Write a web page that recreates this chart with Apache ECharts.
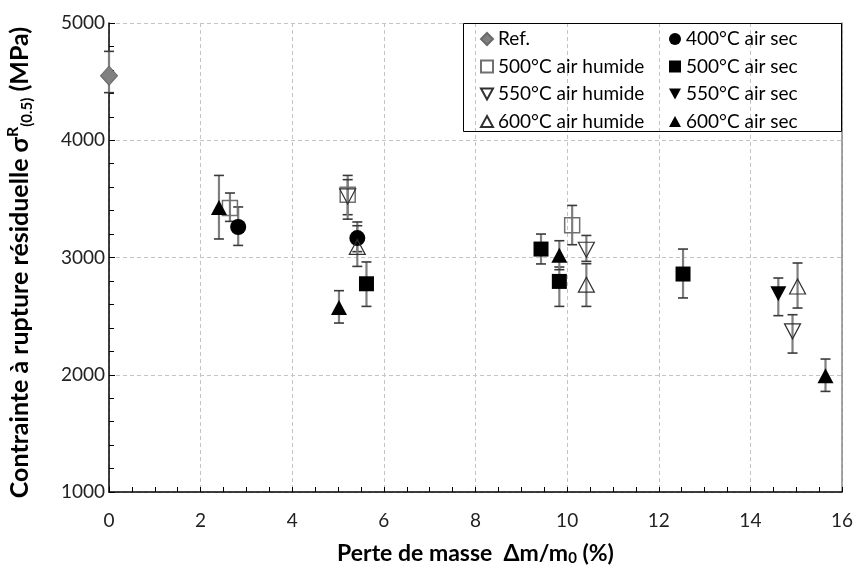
<!DOCTYPE html>
<html>
<head>
<meta charset="utf-8">
<script src="https://cdn.jsdelivr.net/npm/echarts@6/dist/echarts.min.js"></script>
<style>html,body{margin:0;padding:0;background:#fff}#c{width:853px;height:573px}</style>
</head>
<body>
<div id="c"></div>
<script>
// Each point: [mass loss %, stress MPa, error bar low, error bar high]
const refData    = [[0, 4551, 4406, 4758]];
const s400sec    = [[2.82, 3260, 3103, 3431], [5.42, 3166, 3050, 3303]];
const s500humide = [[2.64, 3422, 3308, 3550], [5.21, 3536, 3365, 3700], [10.11, 3274, 3109, 3444]];
const s500sec    = [[5.62, 2776, 2583, 2962], [9.43, 3072, 2945, 3200], [9.83, 2796, 2583, 2919], [12.53, 2859, 2655, 3072]];
const s550humide = [[5.21, 3521, 3327, 3664], [10.42, 3066, 2967, 3188], [14.92, 2370, 2185, 2512]];
const s550sec    = [[14.61, 2691, 2504, 2825]];
const s600humide = [[5.42, 3090, 2924, 3271], [10.42, 2768, 2583, 2947], [15.03, 2753, 2569, 2953]];
const s600sec    = [[2.40, 3427, 3158, 3700], [5.02, 2574, 2441, 2717], [9.83, 3020, 2896, 3143], [15.64, 1992, 1858, 2134]];

const xTicks = [0, 2, 4, 6, 8, 10, 12, 14, 16];
const yTicks = [1000, 2000, 3000, 4000, 5000];

const names = ['Ref.', '400°C air sec', '500°C air humide', '500°C air sec',
               '550°C air humide', '550°C air sec', '600°C air humide', '600°C air sec'];
const datasets = [refData, s400sec, s500humide, s500sec, s550humide, s550sec, s600humide, s600sec];

const FONT = 'Lato, "Open Sans", sans-serif';
const DOWN = 'path://M0,0L10,0L5,9Z';
const UP = 'path://M5,0L10,9L0,9Z';
const styles = [
  {symbol: 'diamond', size: [17, 19], itemStyle: {color: '#808080', borderColor: '#6a6a6a', borderWidth: 1, opacity: 1}},
  {symbol: 'circle', size: 16, itemStyle: {color: '#000', opacity: 1}},
  {symbol: 'rect', size: 15, itemStyle: {color: 'rgba(255,255,255,0)', borderColor: '#707070', borderWidth: 1.5, opacity: 1}},
  {symbol: 'rect', size: 15, itemStyle: {color: '#000', opacity: 1}},
  {symbol: DOWN, size: [16, 15], itemStyle: {color: 'rgba(255,255,255,0)', borderColor: '#303030', borderWidth: 1.2, opacity: 1}},
  {symbol: DOWN, size: [16, 15], itemStyle: {color: '#000', opacity: 1}},
  {symbol: UP, size: [16, 15], itemStyle: {color: 'rgba(255,255,255,0)', borderColor: '#303030', borderWidth: 1.2, opacity: 1}},
  {symbol: UP, size: [16, 15], itemStyle: {color: '#000', opacity: 1}}
];

const errData = [];
datasets.forEach(d => d.forEach(p => errData.push(p)));

const series = [{
  type: 'custom',
  name: 'err',
  z: 1,
  silent: true,
  data: errData,
  encode: {x: 0, y: [2, 3]},
  renderItem: function (params, api) {
    const x = api.value(0);
    const pLo = api.coord([x, api.value(2)]);
    const pHi = api.coord([x, api.value(3)]);
    const w = 5;
    const cap = {stroke: '#3a3a3a', lineWidth: 1.6};
    return {type: 'group', children: [
      {type: 'line', shape: {x1: pLo[0], y1: pLo[1], x2: pHi[0], y2: pHi[1]}, style: {stroke: '#7f7f7f', lineWidth: 2.2}},
      {type: 'line', shape: {x1: pLo[0] - w, y1: pLo[1], x2: pLo[0] + w, y2: pLo[1]}, style: cap},
      {type: 'line', shape: {x1: pHi[0] - w, y1: pHi[1], x2: pHi[0] + w, y2: pHi[1]}, style: cap}
    ]};
  }
}];
names.forEach((n, i) => {
  series.push({
    type: 'scatter', name: n, z: 3,
    data: datasets[i].map(p => [p[0], p[1]]),
    symbol: styles[i].symbol, symbolSize: styles[i].size,
    itemStyle: styles[i].itemStyle,
    emphasis: {disabled: true}
  });
});

const legendCommon = {
  orient: 'vertical', top: 24, itemWidth: 12, itemHeight: 12, itemGap: 7.5,
  textStyle: {fontFamily: FONT, fontSize: 19, color: '#000', lineHeight: 20},
  selectedMode: false
};

const chart = echarts.init(document.getElementById('c'), null, {renderer: 'canvas'});
chart.setOption({
  animation: false,
  backgroundColor: '#fff',
  grid: {left: 109, right: 11, top: 23, bottom: 81, containLabel: false, outerBoundsMode: 'none'},
  xAxis: {
    type: 'value', min: xTicks[0], max: xTicks[xTicks.length - 1], interval: 2,
    name: 'Perte de masse  Δm/m{sub|0} (%)',
    nameLocation: 'middle', nameGap: 50,
    nameTextStyle: {fontFamily: FONT, fontSize: 23, fontWeight: 'bold', color: '#000',
      rich: {sub: {fontFamily: FONT, fontSize: 15, fontWeight: 'bold', color: '#000', verticalAlign: 'bottom', padding: [9, 0, 0, 0]}}},
    axisLine: {lineStyle: {color: '#000', width: 1.5}},
    axisTick: {inside: true, length: 5, lineStyle: {color: '#000'}},
    minorTick: {show: true, splitNumber: 4, length: 5, lineStyle: {color: '#000'}},
    axisLabel: {fontFamily: FONT, fontSize: 19, color: '#222', margin: 19, formatter: v => String(v)},
    splitLine: {show: true, lineStyle: {color: '#c4c4c4', type: [4, 3], width: 1}}
  },
  yAxis: [{
    type: 'value', min: yTicks[0], max: yTicks[yTicks.length - 1], interval: 1000,
    name: 'Contrainte à rupture résiduelle σ{sup|R}{sub|(0.5)} (MPa)',
    nameLocation: 'middle', nameGap: 74, nameRotate: 90,
    nameTextStyle: {fontFamily: FONT, fontSize: 25, fontWeight: 'bold', color: '#000', lineHeight: 30, padding: [0, 10, 0, 0],
      rich: {
        sup: {fontFamily: FONT, fontSize: 16, fontWeight: 'bold', color: '#000', lineHeight: 30, verticalAlign: 'top'},
        sub: {fontFamily: FONT, fontSize: 15, fontWeight: 'bold', color: '#000', lineHeight: 30, verticalAlign: 'bottom', padding: [13, 0, 0, 0]}
      }},
    axisLine: {show: true, lineStyle: {color: '#000', width: 1.5}},
    axisTick: {show: true, inside: true, length: 6, lineStyle: {color: '#000'}},
    minorTick: {show: true, splitNumber: 5, length: 5, lineStyle: {color: '#000'}},
    axisLabel: {fontFamily: FONT, fontSize: 19, color: '#222', margin: 4, formatter: v => String(v)},
    splitLine: {show: true, lineStyle: {color: '#c4c4c4', type: [4, 3], width: 1}}
  }, {
    type: 'value', position: 'right', min: yTicks[0], max: yTicks[yTicks.length - 1], interval: 1000,
    axisLine: {show: true, lineStyle: {color: '#888', width: 1.5}},
    axisTick: {show: false}, axisLabel: {show: false}, splitLine: {show: false}
  }],
  legend: [
    Object.assign({}, legendCommon, {left: 475, data: ['Ref.', '500°C air humide', '550°C air humide', '600°C air humide']}),
    Object.assign({}, legendCommon, {left: 664, data: ['400°C air sec', '500°C air sec', '550°C air sec', '600°C air sec']})
  ],
  graphic: [{
    type: 'rect', z: 100, silent: true,
    shape: {x: 463.5, y: 23.5, width: 378, height: 108},
    style: {fill: 'none', stroke: '#000', lineWidth: 1}
  }],
  series: series
});
</script>
</body>
</html>
